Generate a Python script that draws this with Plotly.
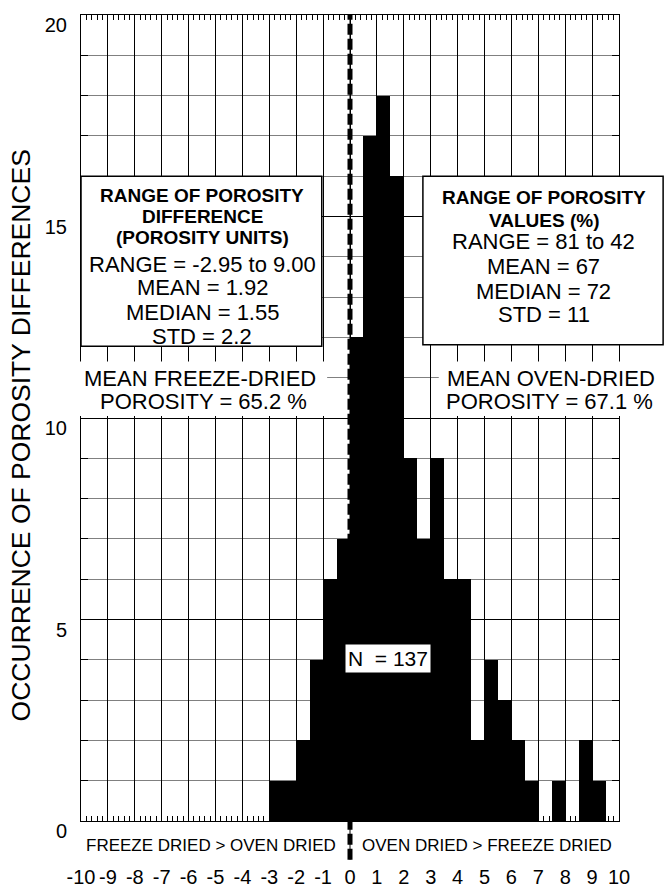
import plotly.graph_objects as go

# ---- data ----
bin_left = [-3.0, -2.5, -2.0, -1.5, -1.0, -0.5, 0.0, 0.5, 1.0, 1.5, 2.0, 2.5, 3.0,
            3.5, 4.0, 4.5, 5.0, 5.5, 6.0, 6.5, 7.0, 7.5, 8.0, 8.5, 9.0, 9.5]
counts = [1, 1, 2, 4, 6, 7, 12, 17, 18, 16, 9, 7, 9,
          6, 6, 2, 4, 3, 2, 1, 0, 1, 0, 2, 1, 0]
bin_width = 0.5
x_ticks = list(range(-10, 11))
y_ticks = [0, 5, 10, 15, 20]

left_box_bold = ["RANGE OF POROSITY", "DIFFERENCE", "(POROSITY UNITS)"]
left_box_lines = ["RANGE = -2.95 to 9.00", "MEAN = 1.92", "MEDIAN = 1.55", "STD = 2.2"]
right_box_bold = ["RANGE OF POROSITY", "VALUES (%)"]
right_box_lines = ["RANGE = 81 to 42", "MEAN = 67", "MEDIAN = 72", "STD = 11"]
left_label = ["MEAN FREEZE-DRIED", "POROSITY = 65.2 %"]
right_label = ["MEAN OVEN-DRIED", "POROSITY = 67.1 %"]

XMIN, XMAX, YMIN, YMAX = -10, 10, 0, 20
FONT = "Liberation Sans, Arial, sans-serif"


def PX(v):
    return (v - XMIN) / (XMAX - XMIN)


def PY(v):
    return (v - YMIN) / (YMAX - YMIN)


centers = [b + bin_width / 2 for b in bin_left]

fig = go.Figure()
fig.add_trace(go.Bar(x=centers, y=counts, width=bin_width,
                     marker=dict(color="black", line=dict(width=0)),
                     showlegend=False, hoverinfo="skip"))

shapes = []
# zero line (thin solid + heavy dashes), extends below axis
shapes.append(dict(type="line", xref="x", yref="paper", x0=0, x1=0, y0=-0.048, y1=1,
                   line=dict(color="black", width=1), layer="above"))
shapes.append(dict(type="line", xref="x", yref="paper", x0=0, x1=0, y0=-0.048, y1=1,
                   line=dict(color="black", width=5, dash="11px,4px"), layer="above"))
# stat boxes
shapes.append(dict(type="rect", xref="paper", yref="paper",
                   x0=PX(-10), x1=PX(-1.05), y0=PY(11.78), y1=PY(16.0),
                   fillcolor="white", line=dict(color="black", width=1.5), layer="above"))
shapes.append(dict(type="rect", xref="paper", yref="paper",
                   x0=PX(2.71), x1=PX(11.64), y0=PY(11.82), y1=PY(16.0),
                   fillcolor="white", line=dict(color="black", width=1.5), layer="above"))
# white backgrounds behind mean-porosity labels
shapes.append(dict(type="rect", xref="paper", yref="paper",
                   x0=PX(-10.4), x1=PX(-0.85), y0=PY(10.05), y1=PY(11.4),
                   fillcolor="white", line=dict(width=0), layer="above"))
shapes.append(dict(type="rect", xref="paper", yref="paper",
                   x0=PX(3.3), x1=PX(11.7), y0=PY(10.05), y1=PY(11.4),
                   fillcolor="white", line=dict(width=0), layer="above"))

ann = []


def txt(s, x, y, size, bold=False, **kw):
    d = dict(text=("<b>%s</b>" % s) if bold else s, xref="paper", yref="paper",
             x=PX(x), y=PY(y), showarrow=False, xanchor="center", yanchor="middle",
             font=dict(family=FONT, size=size, color="black"))
    d.update(kw)
    ann.append(d)


for s, y in zip(left_box_bold, [15.53, 15.01, 14.49]):
    txt(s, -5.5, y, 19, bold=True)
for s, y in zip(left_box_lines, [13.82, 13.23, 12.63, 12.01]):
    txt(s, -5.5, y, 22)
for s, y in zip(right_box_bold, [15.47, 14.89]):
    txt(s, 7.21, y, 19, bold=True)
for s, y in zip(right_box_lines, [14.37, 13.77, 13.15, 12.56]):
    txt(s, 7.21, y, 22)
for s, x, y in zip(left_label, [-5.58, -5.43], [10.97, 10.40]):
    txt(s, x, y, 22)
for s, x, y in zip(right_label, [7.47, 7.43], [10.99, 10.42]):
    txt(s, x, y, 22)
txt("N&nbsp;&nbsp;= 137", 1.41, 4.02, 21, bgcolor="white", borderpad=2)
txt("FREEZE DRIED &gt; OVEN DRIED", -5.17, -0.6, 17)
txt("OVEN DRIED &gt; FREEZE DRIED", 5.09, -0.6, 17)
# y-axis title
ann.append(dict(text="OCCURRENCE OF POROSITY DIFFERENCES", xref="paper", yref="paper",
                x=PX(-12.25), y=PY(9.58), showarrow=False, textangle=-90,
                xanchor="center", yanchor="middle",
                font=dict(family=FONT, size=26.5, color="black")))

fig.update_layout(
    width=664, height=888,
    margin=dict(l=81, r=45, t=15, b=67, pad=0, autoexpand=False),
    paper_bgcolor="white", plot_bgcolor="white",
    shapes=shapes, annotations=ann,
    bargap=0,
    font=dict(family=FONT, color="black"),
)
fig.update_xaxes(
    range=[XMIN, XMAX], tickmode="array", tickvals=x_ticks,
    ticktext=[str(v) for v in x_ticks],
    tickfont=dict(family=FONT, size=20, color="black"),
    ticks="inside", ticklen=5, tickcolor="black", tickwidth=1,
    showgrid=True, gridcolor="black", gridwidth=1, zeroline=False,
    showline=True, linecolor="black", linewidth=1, mirror="ticks",
    ticklabelstandoff=38, automargin=False,
    minor=dict(dtick=0.2, ticks="inside", ticklen=5, tickcolor="black", showgrid=False),
    fixedrange=True,
)
fig.update_yaxes(
    range=[YMIN, YMAX], tickmode="array", tickvals=y_ticks,
    ticktext=[str(v) for v in y_ticks],
    tickfont=dict(family=FONT, size=20, color="black"),
    ticks="inside", ticklen=7, tickcolor="black", tickwidth=1,
    showgrid=True, gridcolor="black", gridwidth=1, zeroline=False,
    showline=True, linecolor="black", linewidth=1, mirror="ticks",
    ticklabelshift=10, ticklabelstandoff=9, automargin=False,
    minor=dict(dtick=1, ticks="inside", ticklen=7, tickcolor="black",
               showgrid=True, gridcolor="#808080", gridwidth=1),
    fixedrange=True,
)

fig.write_html("out.html")
